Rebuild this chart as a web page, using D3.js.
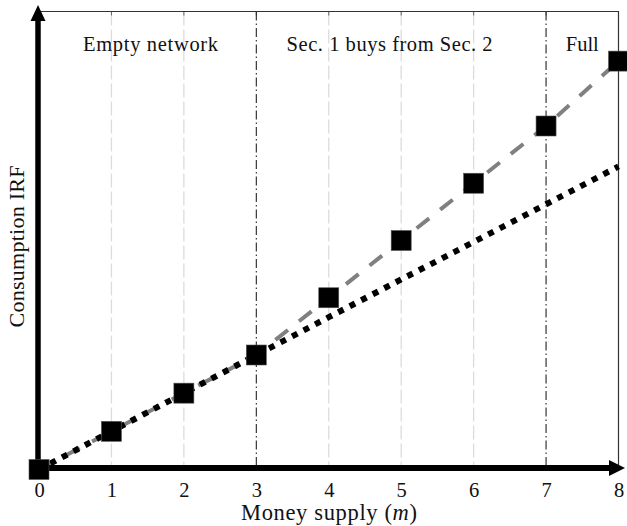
<!DOCTYPE html>
<html><head><meta charset="utf-8">
<script src="https://cdn.jsdelivr.net/npm/d3@7"></script>
<style>
html,body{margin:0;padding:0;background:#fff;}
svg{display:block;}
text{font-family:"Liberation Serif","DejaVu Serif",serif;fill:#111;}
</style></head>
<body>
<svg id="chart" width="627" height="526"></svg>
<script>
// ---- data ----
const moneySupply = [0, 1, 2, 3, 4, 5, 6, 7, 8];
const irfMarkers  = [0, 1, 2, 3, 4.5, 6, 7.5, 9, 10.7];
const irfDashed   = [0, 1, 2, 3, 4.5, 6, 7.5, 9, 10.7];
const irfDotted   = [0, 1, 2, 3, 3.99, 4.98, 5.96, 6.95, 7.94];
const xTicks      = [0, 1, 2, 3, 4, 5, 6, 7, 8];
const gridTicks   = [1, 2, 4, 5, 6];
const regimeBreaks = [3, 7];
const regimeLabels = ["Empty network", "Sec. 1 buys from Sec. 2", "Full"];
const regimeLabelPos = [1.54, 4.84, 7.5];
const regimeLabelLen = [135, 206, 33];

const svg = d3.select("#chart");
const x = d3.scaleLinear().domain([0, 8]).range([39, 618.5]);
const y = d3.scaleLinear().domain([0, 12]).range([469.5, 11.5]);
const yTop = y(12), yBot = y(0);

// grid lines
svg.append("g").selectAll("line").data(gridTicks).join("line")
  .attr("x1", d => x(d)).attr("x2", d => x(d))
  .attr("y1", yTop).attr("y2", yBot)
  .attr("stroke", "#dcdcdc").attr("stroke-width", 1.3)
  .attr("stroke-dasharray", "14,4");
// small top ticks
svg.append("g").selectAll("line").data(xTicks.slice(1, 8)).join("line")
  .attr("x1", d => x(d)).attr("x2", d => x(d))
  .attr("y1", yTop).attr("y2", yTop + 4)
  .attr("stroke", "#666").attr("stroke-width", 1);

// regime boundaries (dash-dot)
svg.append("g").selectAll("line").data(regimeBreaks).join("line")
  .attr("x1", d => x(d)).attr("x2", d => x(d))
  .attr("y1", yTop).attr("y2", yBot)
  .attr("stroke", "#222").attr("stroke-width", 1.1)
  .attr("stroke-dasharray", "9,3,1.5,3");

// top and right border
svg.append("path")
  .attr("d", `M${x(0)},${yTop}H${x(8)}V${yBot}`)
  .attr("fill", "none").attr("stroke", "#333").attr("stroke-width", 1.2);

// gray dashed line
const line = d3.line().x((d, i) => x(moneySupply[i])).y(d => y(d));
svg.append("path").datum(irfDashed)
  .attr("d", line)
  .attr("fill", "none").attr("stroke", "#808080").attr("stroke-width", 4)
  .attr("stroke-dasharray", "16,14");
// black dotted line
svg.append("path").datum(irfDotted)
  .attr("d", line)
  .attr("fill", "none").attr("stroke", "#000").attr("stroke-width", 6)
  .attr("stroke-dasharray", "6,7");

// axes (arrows)
const axY = 468;
svg.append("line").attr("x1", x(0) - 1).attr("x2", 611).attr("y1", axY).attr("y2", axY)
  .attr("stroke", "#000").attr("stroke-width", 6);
svg.append("path").attr("d", `M625,${axY}L609,${axY - 8}L609,${axY + 8}Z`).attr("fill", "#000");
const axX = 38;
svg.append("line").attr("x1", axX).attr("x2", axX).attr("y1", axY + 2).attr("y2", 19)
  .attr("stroke", "#000").attr("stroke-width", 5.5);
svg.append("path").attr("d", `M${axX},5L${axX - 7.5},21L${axX + 7.5},21Z`).attr("fill", "#000");

// x tick labels via d3 axis
const xAxis = d3.axisBottom(x).tickValues(xTicks).tickSize(0).tickPadding(0).tickFormat(d3.format("d"));
const gx = svg.append("g").attr("transform", `translate(0,${482})`).call(xAxis);
gx.select(".domain").remove();
gx.selectAll("text").attr("font-size", 20.5).attr("dy", "0.71em")
  .style("font-family", '"Liberation Serif","DejaVu Serif",serif').attr("fill", "#111");

// markers
const ms = 20;
svg.append("g").selectAll("rect").data(irfMarkers).join("rect")
  .attr("x", (d, i) => x(moneySupply[i]) - ms / 2)
  .attr("y", d => y(d) - ms / 2)
  .attr("width", ms).attr("height", ms)
  .attr("fill", "#000").attr("stroke", "#555").attr("stroke-width", 0.6);

// regime labels
svg.append("g").selectAll("text").data(regimeLabels).join("text")
  .attr("x", (d, i) => x(regimeLabelPos[i]))
  .attr("y", 51)
  .attr("text-anchor", "middle")
  .attr("font-size", 20.5)
  .attr("textLength", (d, i) => regimeLabelLen[i])
  .attr("lengthAdjust", "spacing")
  .text(d => d);

// axis titles
const xt = svg.append("text").attr("x", 329).attr("y", 520).attr("text-anchor", "middle")
  .attr("font-size", 22.5).attr("textLength", 176).attr("lengthAdjust", "spacing");
xt.append("tspan").text("Money supply (");
xt.append("tspan").attr("font-style", "italic").text("m");
xt.append("tspan").text(")");

svg.append("text")
  .attr("transform", "translate(23.5,246.5) rotate(-90)")
  .attr("text-anchor", "middle").attr("font-size", 22)
  .attr("textLength", 162).attr("lengthAdjust", "spacing")
  .text("Consumption IRF");
</script>
</body></html>
